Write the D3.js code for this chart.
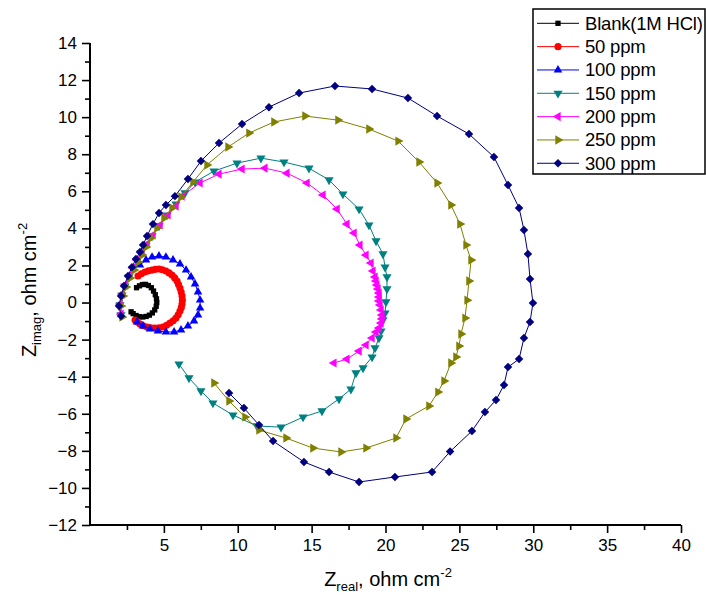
<!DOCTYPE html>
<html>
<head>
<meta charset="utf-8">
<script src="https://cdn.jsdelivr.net/npm/d3@7"></script>
<style>
  body { margin: 0; background: #fff; }
  svg text { font-family: Arial, "Liberation Sans", sans-serif; fill: #000; }
</style>
</head>
<body>
<div class="svg-container"></div>
<script>
// Nyquist data: [Zreal, Zimag]
const blank = [[2.78,-0.5],[2.92,-0.6],[3.12,-0.7],[3.35,-0.76],[3.57,-0.78],[3.8,-0.75],[4.02,-0.68],[4.22,-0.56],[4.38,-0.4],[4.48,-0.2],[4.52,0.0],[4.5,0.2],[4.42,0.42],[4.3,0.62],[4.15,0.8],[3.95,0.92],[3.75,0.98],[3.55,0.97],[3.35,0.9],[3.15,0.8]];
const ppm50 = [[3.05,-0.94],[3.2,-1.05],[3.38,-1.16],[3.6,-1.25],[3.86,-1.32],[4.12,-1.36],[4.4,-1.38],[4.67,-1.36],[4.94,-1.32],[5.18,-1.23],[5.41,-1.11],[5.63,-0.98],[5.82,-0.84],[5.97,-0.66],[6.09,-0.46],[6.18,-0.27],[6.23,-0.08],[6.25,0.13],[6.23,0.35],[6.17,0.57],[6.09,0.78],[5.99,0.97],[5.89,1.16],[5.73,1.33],[5.55,1.48],[5.35,1.6],[5.14,1.7],[4.9,1.77],[4.67,1.81],[4.43,1.79],[4.2,1.75],[3.96,1.71],[3.72,1.65],[3.48,1.55],[3.25,1.43]];
const ppm100 = [[3.18,-1.05],[3.59,-1.27],[4.06,-1.43],[4.6,-1.54],[5.14,-1.59],[5.69,-1.59],[6.16,-1.48],[6.63,-1.27],[7.04,-1.0],[7.31,-0.67],[7.45,-0.3],[7.45,0.13],[7.31,0.57],[7.11,1.0],[6.84,1.38],[6.5,1.75],[6.09,2.08],[5.62,2.29],[5.14,2.45],[4.67,2.51],[4.2,2.45],[3.79,2.29],[3.38,2.02]];
const ppm150 = [[2.1,-0.67],[2.03,-0.13],[2.17,0.4],[2.37,0.89],[2.64,1.38],[2.91,1.81],[3.18,2.24],[3.45,2.67],[3.79,3.1],[4.2,3.59],[4.67,4.13],[5.21,4.72],[5.82,5.31],[6.43,5.91],[7.11,6.5],[8.39,7.09],[9.95,7.52],[11.57,7.79],[13.13,7.58],[14.82,7.25],[16.18,6.61],[17.12,5.85],[18.21,5.04],[18.88,4.18],[19.36,3.32],[19.83,2.62],[19.97,1.91],[20.1,1.38],[20.1,0.73],[20.03,0.03],[19.97,-0.57],[19.83,-0.94],[19.7,-1.54],[19.56,-1.91],[19.29,-2.45],[19.09,-2.94],[18.48,-3.53],[18.0,-3.8],[17.66,-4.67],[16.85,-5.2],[15.7,-5.85],[14.42,-6.18],[12.93,-6.72],[11.3,-6.66],[9.68,-6.07],[8.32,-5.42],[7.51,-4.77],[6.7,-4.07],[6.02,-3.32]];
const ppm200 = [[2.1,-0.62],[2.03,-0.08],[2.17,0.46],[2.37,0.94],[2.64,1.43],[2.91,1.86],[3.18,2.29],[3.52,2.72],[3.86,3.16],[4.26,3.64],[4.74,4.18],[5.28,4.72],[5.82,5.2],[6.23,5.74],[7.45,6.45],[8.73,6.93],[10.29,7.2],[11.84,7.25],[13.33,6.98],[14.69,6.45],[15.77,5.8],[16.72,5.04],[17.39,4.23],[17.87,3.75],[18.27,3.1],[18.68,2.56],[19.02,2.13],[19.15,1.7],[19.29,1.38],[19.36,1.16],[19.42,0.94],[19.49,0.73],[19.56,0.51],[19.56,0.3],[19.56,0.08],[19.63,-0.13],[19.7,-0.4],[19.76,-0.67],[19.76,-0.89],[19.7,-1.11],[19.56,-1.38],[19.36,-1.59],[19.09,-1.91],[18.68,-2.29],[18.21,-2.62],[17.39,-3.05],[16.51,-3.26]];
const ppm250 = [[2.17,-0.78],[2.1,-0.19],[2.23,0.35],[2.44,0.84],[2.71,1.32],[2.98,1.75],[3.25,2.18],[3.52,2.56],[3.79,2.99],[4.13,3.48],[4.53,4.02],[5.01,4.56],[5.55,5.1],[6.16,5.69],[6.97,6.5],[7.92,7.42],[9.34,8.39],[10.76,9.14],[12.45,9.74],[14.55,10.06],[16.78,9.84],[18.88,9.36],[20.85,8.71],[22.27,7.58],[23.49,6.45],[24.43,5.26],[25.04,4.23],[25.45,3.1],[25.79,2.29],[25.65,1.16],[25.52,0.13],[25.38,-0.84],[25.11,-1.7],[24.97,-2.35],[24.77,-2.94],[24.43,-3.26],[23.96,-4.23],[23.55,-4.83],[22.94,-5.58],[21.39,-6.28],[20.71,-7.31],[18.68,-7.85],[16.99,-8.06],[15.09,-7.85],[13.27,-7.31],[11.44,-6.88],[10.49,-6.18],[9.41,-5.31],[8.39,-4.34]];
const ppm300 = [[2.1,-0.73],[1.96,-0.19],[2.1,0.35],[2.3,0.89],[2.57,1.43],[2.84,1.91],[3.11,2.35],[3.38,2.72],[3.59,3.1],[3.86,3.59],[4.26,4.23],[4.67,4.83],[5.14,5.26],[5.75,5.74],[6.63,6.66],[7.51,7.63],[8.73,8.6],[10.29,9.63],[12.11,10.54],[14.15,11.3],[16.58,11.68],[19.09,11.52],[21.52,11.03],[23.49,10.06],[25.65,9.09],[27.34,7.85],[28.29,6.34],[29.04,5.1],[29.37,3.91],[29.64,2.62],[29.78,1.27],[29.98,-0.03],[29.78,-1.05],[29.37,-1.91],[29.04,-3.05],[28.29,-3.48],[28.02,-4.45],[27.48,-5.26],[26.73,-5.91],[25.85,-6.93],[24.37,-8.04],[23.15,-9.14],[20.64,-9.41],[18.21,-9.68],[16.18,-9.14],[14.48,-8.6],[12.39,-7.47],[11.44,-6.61],[10.42,-5.69],[9.41,-4.88]];

const seriesNames = ["Blank(1M HCl)", "50 ppm", "100 ppm", "150 ppm", "200 ppm", "250 ppm", "300 ppm"];
const seriesColors = ["#000000", "#ff0000", "#0000ff", "#008080", "#ff00ff", "#808000", "#000080"];
const xTicks = [5, 10, 15, 20, 25, 30, 35, 40];
const xMinor = [2.5, 7.5, 12.5, 17.5, 22.5, 27.5, 32.5, 37.5];
const yTicks = [-12, -10, -8, -6, -4, -2, 0, 2, 4, 6, 8, 10, 12, 14];
const yMinor = [-11, -9, -7, -5, -3, -1, 1, 3, 5, 7, 9, 11, 13];

document.addEventListener("DOMContentLoaded", () => {

  let margin = { top: 43, right: 25, bottom: 77, left: 90 },
    width = 706 - margin.left - margin.right,
    height = 602 - margin.top - margin.bottom;

  let svg = d3.select(".svg-container").append("svg")
    .attr("width", 706)
    .attr("height", 602);

  let g = svg.append("g")
    .attr("transform", "translate(" + margin.left + "," + margin.top + ")");

  let x = d3.scaleLinear().domain([0, 40]).range([0, width]);
  let y = d3.scaleLinear().domain([-12, 14]).range([height, 0]);

  // marker shapes, one per series
  let sym = d3.symbol();
  let shapes = [
    { type: d3.symbolSquare, size: 28, rot: 0 },
    { type: d3.symbolCircle, size: 40, rot: 0 },
    { type: d3.symbolTriangle, size: 32, rot: 0 },
    { type: d3.symbolTriangle, size: 36, rot: 180 },
    { type: d3.symbolTriangle, size: 36, rot: -90 },
    { type: d3.symbolTriangle, size: 38, rot: 90 },
    { type: d3.symbolSquare, size: 36, rot: 45 }
  ];

  let allSeries = [blank, ppm50, ppm100, ppm150, ppm200, ppm250, ppm300];

  //x axis: major + minor ticks
  let xAxis = d3.axisBottom(x).tickValues(xTicks).tickSize(8).tickPadding(6);
  let xAxisMinor = d3.axisBottom(x).tickValues(xMinor).tickSize(5).tickFormat("");
  let gx = g.append("g").attr("transform", "translate(0," + height + ")").call(xAxis);
  let gxm = g.append("g").attr("transform", "translate(0," + height + ")").call(xAxisMinor);

  let yAxis = d3.axisLeft(y).tickValues(yTicks).tickSize(8).tickPadding(5);
  let yAxisMinor = d3.axisLeft(y).tickValues(yMinor).tickSize(5).tickFormat("");
  let gy = g.append("g").call(yAxis);
  let gym = g.append("g").call(yAxisMinor);

  [gx, gxm, gy, gym].forEach(a => {
    a.select(".domain").remove();
    a.selectAll("line").attr("stroke", "#000").attr("stroke-width", 1.6);
    a.selectAll("text").style("font-size", "17px").attr("font-family", "Arial, 'Liberation Sans', sans-serif");
  });

  // axis lines
  g.append("line").attr("x1", 0).attr("x2", width).attr("y1", height).attr("y2", height)
    .attr("stroke", "#000").attr("stroke-width", 2);
  g.append("line").attr("x1", 0).attr("x2", 0).attr("y1", 0).attr("y2", height)
    .attr("stroke", "#000").attr("stroke-width", 2);

  // series lines and markers
  let line = d3.line().x(d => x(d[0])).y(d => y(d[1]));
  allSeries.forEach((data, i) => {
    g.append("path")
      .datum(data)
      .attr("d", line)
      .attr("fill", "none")
      .attr("stroke", seriesColors[i])
      .attr("stroke-width", 1);
    g.selectAll(".m" + i)
      .data(data)
      .enter().append("path")
      .attr("class", "m" + i)
      .attr("d", sym.type(shapes[i].type).size(shapes[i].size)())
      .attr("transform", d => "translate(" + x(d[0]) + "," + y(d[1]) + ") rotate(" + shapes[i].rot + ")")
      .attr("fill", seriesColors[i]);
  });

  // axis titles
  let xt = svg.append("text")
    .attr("x", 388).attr("y", 586)
    .attr("text-anchor", "middle")
    .style("font-size", "20px");
  xt.append("tspan").text("Z");
  xt.append("tspan").attr("dy", 5).style("font-size", "13px").text("real");
  xt.append("tspan").attr("dy", -5).text(", ohm cm");
  xt.append("tspan").attr("dy", -9).style("font-size", "13px").text("-2");

  let yt = svg.append("text")
    .attr("transform", "translate(36,290) rotate(-90)")
    .attr("text-anchor", "middle")
    .style("font-size", "20px");
  yt.append("tspan").text("Z");
  yt.append("tspan").attr("dy", 5).style("font-size", "13px").text("imag");
  yt.append("tspan").attr("dy", -5).text(", ohm cm");
  yt.append("tspan").attr("dy", -9).style("font-size", "13px").text("-2");

  // legend
  svg.append("rect")
    .attr("x", 533).attr("y", 9)
    .attr("width", 172).attr("height", 165)
    .attr("fill", "#fff")
    .attr("stroke", "#000")
    .attr("stroke-width", 1.5);

  let legend = svg.selectAll(".legend")
    .data(seriesNames)
    .enter().append("g")
    .attr("class", "legend")
    .attr("transform", (d, i) => "translate(0," + (23.3 + i * 23.33) + ")");

  legend.append("line")
    .attr("x1", 537).attr("x2", 579)
    .attr("stroke", (d, i) => seriesColors[i])
    .attr("stroke-width", 1);

  legend.append("path")
    .attr("d", (d, i) => sym.type(shapes[i].type).size(shapes[i].size)())
    .attr("transform", (d, i) => "translate(558,0) rotate(" + shapes[i].rot + ")")
    .attr("fill", (d, i) => seriesColors[i]);

  legend.append("text")
    .attr("x", 585)
    .attr("dy", "0.35em")
    .style("font-size", "18.5px")
    .style("letter-spacing", "-0.2px")
    .text(d => d);
});
</script>
</body>
</html>
